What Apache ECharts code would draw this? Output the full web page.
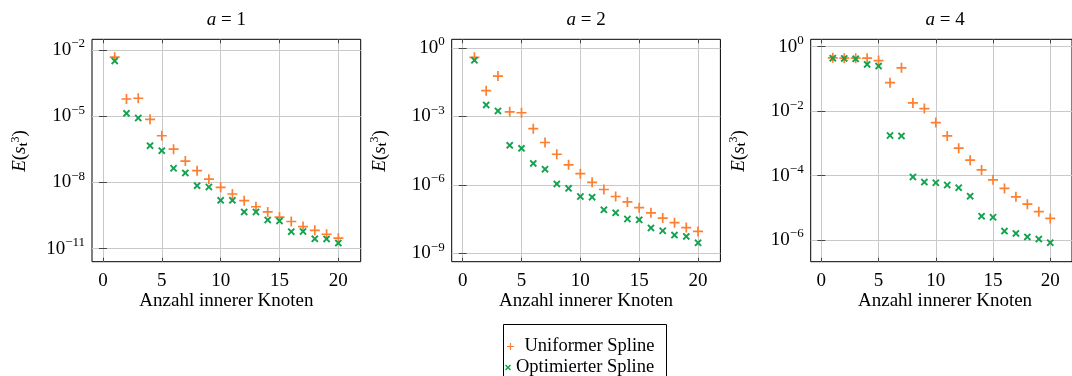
<!DOCTYPE html>
<html>
<head>
<meta charset="utf-8">
<script src="https://cdn.jsdelivr.net/npm/echarts@6/dist/echarts.min.js"></script>
<style>
html,body{margin:0;padding:0;background:#fff;}
#chart{width:1072px;height:376px;}
</style>
</head>
<body>
<div id="chart"></div>
<script>
// ---- data ----
const knots = [1,2,3,4,5,6,7,8,9,10,11,12,13,14,15,16,17,18,19,20];

const uniA1 = [4.7e-3,6.0e-5,6.5e-5,7.2e-6,1.3e-6,3.2e-7,9.3e-8,3.4e-8,1.4e-8,6.0e-9,
               3.0e-9,1.5e-9,7.9e-10,4.6e-10,2.7e-10,1.7e-10,1.0e-10,6.8e-11,4.5e-11,3.0e-11];
const optA1 = [3.2e-3,1.35e-5,8.3e-6,4.6e-7,2.75e-7,4.4e-8,2.7e-8,7.1e-9,6.2e-9,1.55e-9,
               1.55e-9,4.6e-10,4.6e-10,2.0e-10,1.8e-10,5.9e-11,6.0e-11,2.8e-11,2.75e-11,1.8e-11];

const uniA2 = [0.39,1.35e-2,5.9e-2,1.6e-3,1.45e-3,2.9e-4,7.2e-5,2.2e-5,7.6e-6,3.1e-6,
               1.3e-6,6.3e-7,3.1e-7,1.8e-7,1.0e-7,6.0e-8,3.5e-8,2.2e-8,1.35e-8,9.1e-9];
const optA2 = [0.29,3.2e-3,1.75e-3,5.4e-5,4.0e-5,8.7e-6,4.9e-6,1.1e-6,7.1e-7,3.1e-7,
               2.9e-7,8.1e-8,6.0e-8,3.2e-8,2.95e-8,1.3e-8,9.8e-9,6.3e-9,5.5e-9,2.9e-9];

const uniA4 = [0.45,0.44,0.44,0.44,0.37,7.6e-2,0.22,1.8e-2,1.2e-2,4.4e-3,
               1.7e-3,7.1e-4,3.0e-4,1.5e-4,7.4e-5,4.0e-5,2.2e-5,1.3e-5,7.6e-6,4.7e-6];
const optA4 = [0.44,0.43,0.42,0.28,0.25,1.75e-3,1.7e-3,9.1e-5,6.3e-5,6.0e-5,
               5.1e-5,4.2e-5,2.3e-5,5.5e-6,5.1e-6,1.9e-6,1.6e-6,1.25e-6,1.07e-6,8.3e-7];

const xTicks = [0,5,10,15,20];
const yTicksA1 = [1e-11,1e-8,1e-5,1e-2];
const yTicksA2 = [1e-9,1e-6,1e-3,1];
const yTicksA4 = [1e-6,1e-4,1e-2,1];

const titles = ['1','2','4'];
const seriesNames = ['Uniformer Spline','Optimierter Spline'];
const xName = 'Anzahl innerer Knoten';

// axis ranges
const xRange = [-0.93, 21.9];
const yRanges = [[2.57e-12, 3.04e-2],[4.31e-10, 2.40],[2.13e-7, 1.69]];

// ---- styling / layout ----
const FONT = 'Liberation Serif';
const ORANGE = '#fc7f32';
const GREEN = '#12a34f';
const gridLefts = [92, 451.7, 810.7];
const gridTop = 39.3, gridW = 268.7, gridH = 222.4;
const PLUS = 'path://M4.15,0H5.85V4.15H10V5.85H5.85V10H4.15V5.85H0V4.15H4.15Z';
const CROSS = 'path://M0,1.8L1.8,0L5,3.2L8.2,0L10,1.8L6.8,5L10,8.2L8.2,10L5,6.8L1.8,10L0,8.2L3.2,5Z';

const uni = [uniA1, uniA2, uniA4];
const opt = [optA1, optA2, optA4];
const yTicks = [yTicksA1, yTicksA2, yTicksA4];

function supLabel(v){
  const e = Math.round(Math.log10(v));
  const s = e < 0 ? '\u2212' + (-e) : String(e);
  return '{b|10}{s|' + s + '}';
}

const grids = [], xAxes = [], yAxes = [], series = [], graphics = [];
for (let i = 0; i < 3; i++) {
  grids.push({left: gridLefts[i], top: gridTop, width: gridW, height: gridH,
    show: true, borderColor: '#000', borderWidth: 1, backgroundColor: 'transparent'});
  const tick = {show: true, inside: true, length: 4, lineStyle: {color: '#444', width: 1}};
  xAxes.push({type: 'value', gridIndex: i, position: 'bottom', min: xRange[0], max: xRange[1],
    axisLine: {show: false},
    axisTick: Object.assign({customValues: xTicks}, tick),
    axisLabel: {customValues: xTicks, margin: 10, color: '#000',
      fontFamily: FONT, fontSize: 19},
    splitLine: {show: true, lineStyle: {color: '#c9c9c9', width: 1}}});
  xAxes.push({type: 'value', gridIndex: i, position: 'top', min: xRange[0], max: xRange[1],
    axisLine: {show: false},
    axisTick: Object.assign({customValues: xTicks}, tick),
    axisLabel: {show: false}, splitLine: {show: false}});
  yAxes.push({type: 'log', logBase: 10, gridIndex: i, position: 'left',
    min: yRanges[i][0], max: yRanges[i][1],
    axisLine: {show: false},
    axisTick: Object.assign({customValues: yTicks[i]}, tick),
    axisLabel: {customValues: yTicks[i], margin: 7, color: '#000', formatter: supLabel,
      fontFamily: FONT, fontSize: 19,
      rich: {
        b: {fontFamily: FONT, fontSize: 19, color: '#000'},
        s: {fontFamily: FONT, fontSize: 13, color: '#000', padding: [0,0,12,0]}
      }},
    splitLine: {show: true, lineStyle: {color: '#c9c9c9', width: 1}},
    minorTick: {show: false}, minorSplitLine: {show: false}});
  yAxes.push({type: 'log', logBase: 10, gridIndex: i, position: 'right',
    min: yRanges[i][0], max: yRanges[i][1],
    axisLine: {show: false},
    axisTick: Object.assign({customValues: yTicks[i]}, tick),
    axisLabel: {show: false}, splitLine: {show: false}});

  series.push({name: seriesNames[0], type: 'scatter', xAxisIndex: 2*i, yAxisIndex: 2*i,
    symbol: PLUS, symbolSize: 10, itemStyle: {color: ORANGE, opacity: 1},
    data: knots.map((k, j) => [k, uni[i][j]]), z: 3, silent: true});
  series.push({name: seriesNames[1], type: 'scatter', xAxisIndex: 2*i, yAxisIndex: 2*i,
    symbol: CROSS, symbolSize: 7.5, itemStyle: {color: GREEN, opacity: 1},
    data: knots.map((k, j) => [k, opt[i][j]]), z: 4, silent: true});

  const cx = gridLefts[i] + gridW / 2;
  graphics.push({type: 'text', x: cx, y: 20, style: {
    text: '{i|a} = ' + titles[i], align: 'center', verticalAlign: 'middle',
    fontFamily: FONT, fontSize: 19, fill: '#000',
    rich: {i: {fontFamily: FONT, fontSize: 19, fontStyle: 'italic', fill: '#000'}}}});
  graphics.push({type: 'text', x: cx, y: 301, style: {
    text: xName, align: 'center', verticalAlign: 'middle',
    fontFamily: FONT, fontSize: 19, fill: '#000'}});
  graphics.push({type: 'text', x: gridLefts[i] - 72, y: 151, rotation: Math.PI / 2, style: {
    text: '{i|E}({i|s}{sub|t}{sup|3})', align: 'center', verticalAlign: 'middle',
    fontFamily: FONT, fontSize: 19, fill: '#000',
    rich: {
      i: {fontFamily: FONT, fontSize: 19, fontStyle: 'italic', fill: '#000'},
      sub: {fontFamily: FONT, fontSize: 12, fontWeight: 'bold', fill: '#000', padding: [7,0,0,0]},
      sup: {fontFamily: FONT, fontSize: 12, fill: '#000', padding: [0,0,9,0]}
    }}});
}

graphics.push({type: 'rect', shape: {x: 503.5, y: 324.5, width: 163, height: 80},
  style: {fill: '#fff', stroke: '#000', lineWidth: 1}, z: -1});

const chart = echarts.init(document.getElementById('chart'), null, {renderer: 'canvas'});
chart.setOption({
  animation: false,
  textStyle: {fontFamily: FONT, fontSize: 19, color: '#000'},
  grid: grids,
  xAxis: xAxes,
  yAxis: yAxes,
  series: series,
  legend: [
    {data: [seriesNames[0]], orient: 'vertical', left: 507, top: 337, padding: 0,
     itemWidth: 18, itemHeight: 7, selectedMode: false,
     textStyle: {fontFamily: FONT, fontSize: 18.5, color: '#000'}},
    {data: [seriesNames[1]], orient: 'vertical', left: 505, top: 358, padding: 0,
     itemWidth: 6, itemHeight: 6, selectedMode: false,
     textStyle: {fontFamily: FONT, fontSize: 18.5, color: '#000'}}
  ],
  graphic: graphics
});
</script>
</body>
</html>
